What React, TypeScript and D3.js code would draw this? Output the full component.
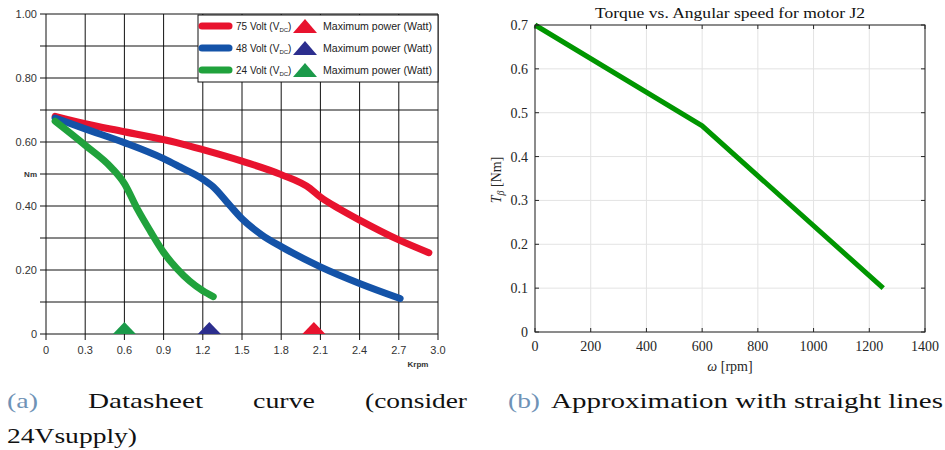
import React from "react";
import * as d3 from "d3";

// left panel: datasheet curves (Krpm vs Nm)
const rpm75 = [0.07, 0.3, 0.6, 1.0, 1.2, 1.5, 1.8, 2.02, 2.1, 2.25, 2.4, 2.7, 2.93];
const torque75 = [0.68, 0.657, 0.632, 0.598, 0.576, 0.54, 0.498, 0.455, 0.428, 0.39, 0.356, 0.294, 0.254];
const rpm48 = [0.07, 0.3, 0.6, 0.9, 1.025, 1.2, 1.28, 1.4, 1.5, 1.65, 1.8, 2.1, 2.4, 2.71];
const torque48 = [0.675, 0.641, 0.598, 0.548, 0.522, 0.484, 0.46, 0.405, 0.36, 0.31, 0.273, 0.21, 0.158, 0.111];
const rpm24 = [0.07, 0.3, 0.5, 0.6, 0.7, 0.8, 0.9, 1.0, 1.1, 1.2, 1.28];
const torque24 = [0.665, 0.59, 0.52, 0.47, 0.39, 0.32, 0.255, 0.205, 0.165, 0.135, 0.117];
const maxPowerRpm = [2.05, 1.25, 0.6]; // 75, 48, 24 V
const seriesNames = ["75 Volt", "48 Volt", "24 Volt"];
const seriesColors = ["#e8132e", "#1453a8", "#20a23c"];
const triColors = ["#e8132e", "#2c2e8e", "#1b9a4a"];
const leftXTicks = [0, 0.3, 0.6, 0.9, 1.2, 1.5, 1.8, 2.1, 2.4, 2.7, 3.0];
const leftYTicks = [0, 0.2, 0.4, 0.6, 0.8, 1.0];

// right panel: straight line approximation
const omega = [0, 600, 1250];
const torqueApprox = [0.7, 0.47, 0.1];
const rightXTicks = [0, 200, 400, 600, 800, 1000, 1200, 1400];
const rightYTicks = [0, 0.1, 0.2, 0.3, 0.4, 0.5, 0.6, 0.7];

const sans = "'Liberation Sans', Arial, sans-serif";
const serif = "'Liberation Serif', 'DejaVu Serif', serif";

function LeftChart() {
  const x = d3.scaleLinear().domain([0, 3]).range([46, 438]);
  const y = d3.scaleLinear().domain([0, 1]).range([334, 14]);
  const line = d3
    .line<[number, number]>()
    .x((d) => x(d[0]))
    .y((d) => y(d[1]))
    .curve(d3.curveMonotoneX);
  const series = [
    rpm75.map((v, i) => [v, torque75[i]] as [number, number]),
    rpm48.map((v, i) => [v, torque48[i]] as [number, number]),
    rpm24.map((v, i) => [v, torque24[i]] as [number, number]),
  ];
  const hGrid = d3.range(0, 11).map((i) => i / 10);
  const fmtY = (v: number) => (v === 0 ? "0" : d3.format(".2f")(v));
  const fmtX = (v: number) => (v === 0 ? "0" : d3.format(".1f")(v));
  const tri = (cx: number, base: number, w: number, h: number) =>
    `M${cx - w / 2},${base}L${cx},${base - h}L${cx + w / 2},${base}Z`;
  const legY = [26, 48, 70];

  return (
    <g>
      {hGrid.map((v) => (
        <line key={"h" + v} x1={40} x2={x(3)} y1={y(v)} y2={y(v)} stroke="#111" strokeWidth={1} />
      ))}
      {leftXTicks.map((v) => (
        <line key={"v" + v} x1={x(v)} x2={x(v)} y1={y(1)} y2={y(0) + 6} stroke="#111" strokeWidth={1} />
      ))}
      {leftYTicks.map((v) => (
        <text key={"yl" + v} x={37} y={y(v) + 4} fontSize={11} fill="#333" textAnchor="end" fontFamily={sans}>
          {fmtY(v)}
        </text>
      ))}
      <text x={37} y={y(0.5) + 3} fontSize={8} fontWeight="bold" fill="#333" textAnchor="end" fontFamily={sans}>
        Nm
      </text>
      {leftXTicks.map((v) => (
        <text key={"xl" + v} x={x(v)} y={354} fontSize={11} fill="#333" textAnchor="middle" fontFamily={sans}>
          {fmtX(v)}
        </text>
      ))}
      <text x={418} y={367} fontSize={8} fontWeight="bold" fill="#333" textAnchor="middle" fontFamily={sans}>
        Krpm
      </text>

      {series.map((s, i) => (
        <path
          key={"s" + i}
          d={line(s) || ""}
          fill="none"
          stroke={seriesColors[i]}
          strokeWidth={7}
          strokeLinecap="round"
          strokeLinejoin="round"
        />
      ))}
      {maxPowerRpm.map((v, i) => (
        <path key={"t" + i} d={tri(x(v), y(0), 23, 12)} fill={triColors[i]} />
      ))}

      <rect x={198} y={15} width={240} height={67} fill="#fff" stroke="#111" strokeWidth={1} />
      {seriesNames.map((name, i) => (
        <g key={"lg" + i}>
          <line x1={202} x2={229} y1={legY[i]} y2={legY[i]} stroke={seriesColors[i]} strokeWidth={7} strokeLinecap="round" />
          <text x={236} y={legY[i] + 4} fontSize={10} fill="#222" fontFamily={sans}>
            {name} (V
            <tspan fontSize={6} dy={2}>DC</tspan>
            <tspan dy={-2}>)</tspan>
          </text>
          <path d={tri(305, legY[i] + 7, 24, 14)} fill={triColors[i]} />
          <text x={323} y={legY[i] + 4} fontSize={10} fill="#222" fontFamily={sans} textLength={109} lengthAdjust="spacingAndGlyphs">
            Maximum power (Watt)
          </text>
        </g>
      ))}
    </g>
  );
}

function RightChart() {
  const x = d3.scaleLinear().domain([0, 1400]).range([535, 925]);
  const y = d3.scaleLinear().domain([0, 0.7]).range([332, 25]);
  const line = d3
    .line<[number, number]>()
    .x((d) => x(d[0]))
    .y((d) => y(d[1]));
  const pts = omega.map((v, i) => [v, torqueApprox[i]] as [number, number]);
  const fmtY = (v: number) => (v === 0 ? "0" : d3.format(".1f")(v));
  const axisCol = "#262626";

  return (
    <g>
      {rightXTicks.map((v) => (
        <line key={"gx" + v} x1={x(v)} x2={x(v)} y1={y(0.7)} y2={y(0)} stroke="#e3e3e3" strokeWidth={1} />
      ))}
      {rightYTicks.map((v) => (
        <line key={"gy" + v} x1={x(0)} x2={x(1400)} y1={y(v)} y2={y(v)} stroke="#e3e3e3" strokeWidth={1} />
      ))}
      <path d={line(pts) || ""} fill="none" stroke="#009600" strokeWidth={5} />
      <rect x={x(0)} y={y(0.7)} width={x(1400) - x(0)} height={y(0) - y(0.7)} fill="none" stroke={axisCol} strokeWidth={1} />
      {rightXTicks.map((v) => (
        <g key={"tx" + v}>
          <line x1={x(v)} x2={x(v)} y1={y(0)} y2={y(0) - 4} stroke={axisCol} />
          <line x1={x(v)} x2={x(v)} y1={y(0.7)} y2={y(0.7) + 4} stroke={axisCol} />
          <text x={x(v)} y={351} fontSize={14} fill="#262626" textAnchor="middle" fontFamily={serif}>
            {v}
          </text>
        </g>
      ))}
      {rightYTicks.map((v) => (
        <g key={"ty" + v}>
          <line x1={x(0)} x2={x(0) + 4} y1={y(v)} y2={y(v)} stroke={axisCol} />
          <line x1={x(1400)} x2={x(1400) - 4} y1={y(v)} y2={y(v)} stroke={axisCol} />
          <text x={528} y={y(v) + 5} fontSize={14} fill="#262626" textAnchor="end" fontFamily={serif}>
            {fmtY(v)}
          </text>
        </g>
      ))}
      <text x={595} y={18} fontSize={15} fill="#111" fontFamily={serif} textLength={270} lengthAdjust="spacingAndGlyphs">
        Torque vs. Angular speed for motor J2
      </text>
      <text x={730} y={371} fontSize={14} fill="#262626" textAnchor="middle" fontFamily={serif}>
        <tspan fontStyle="italic">ω</tspan> [rpm]
      </text>
      <text transform="translate(501,180) rotate(-90)" fontSize={14} fill="#262626" textAnchor="middle" fontFamily={serif}>
        <tspan fontStyle="italic">T</tspan>
        <tspan fontStyle="italic" fontSize={10} dy={3}>β</tspan>
        <tspan dy={-3}> [Nm]</tspan>
      </text>
    </g>
  );
}

function Captions() {
  const blue = "#6f92b6";
  const words = [
    { t: "(a)", x: 7, w: 31, y: 408, c: blue },
    { t: "Datasheet", x: 88, w: 115, y: 408, c: "#111" },
    { t: "curve", x: 253, w: 62, y: 408, c: "#111" },
    { t: "(consider", x: 365, w: 102, y: 408, c: "#111" },
    { t: "24Vsupply)", x: 7, w: 130, y: 443, c: "#111" },
    { t: "(b)", x: 508, w: 32, y: 408, c: blue },
    { t: "Approximation with straight lines", x: 551, w: 392, y: 408, c: "#111" },
  ];
  return (
    <g>
      {words.map((d, i) => (
        <text key={i} x={d.x} y={d.y} fontSize={22} fill={d.c} fontFamily={serif} textLength={d.w} lengthAdjust="spacingAndGlyphs">
          {d.t}
        </text>
      ))}
    </g>
  );
}

export default function App() {
  return (
    <svg width={945} height={450} style={{ position: "absolute", left: 0, top: 0, background: "#fff" }}>
      <LeftChart />
      <RightChart />
      <Captions />
    </svg>
  );
}
